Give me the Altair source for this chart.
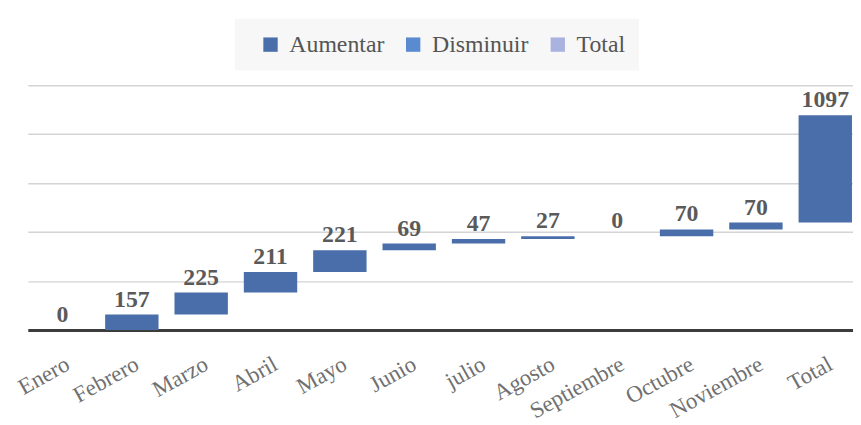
import altair as alt
import pandas as pd

months = ["Enero", "Febrero", "Marzo", "Abril", "Mayo", "Junio", "julio",
          "Agosto", "Septiembre", "Octubre", "Noviembre", "Total"]
changes = [0, 157, 225, 211, 221, 69, 47, 27, 0, 70, 70]
kinds = ["Aumentar"] * 12
legend_names = ["Aumentar", "Disminuir", "Total"]
legend_colors = ["#4a6ea9", "#5a8ad0", "#aab3e0"]

total = sum(changes)
values = changes + [total]
starts, ends = [], []
run = 0
for v in changes:
    starts.append(run)
    run += v
    ends.append(run)
starts.append(run)
ends.append(run + total)

df = pd.DataFrame({"mes": months, "valor": values, "inicio": starts,
                   "fin": ends, "tipo": kinds})

serif = "Liberation Serif"

x_axis = alt.Axis(labelAngle=-29, labelAlign="right", labelBaseline="top",
                  labelPadding=23, ticks=False, domainColor="#3c3c3c",
                  domainWidth=3, labelFont=serif, labelFontSize=23,
                  labelColor="#707070", grid=False)
y_axis = alt.Axis(values=[0, 500, 1000, 1500, 2000, 2500], labels=False,
                  ticks=False, domain=False, gridColor="#d4d4d4", gridWidth=1.5)
x_scale = alt.Scale(paddingInner=0.23, paddingOuter=0.065, align=0.885)
y_scale = alt.Scale(domain=[0, 2500], nice=False)

bars = alt.Chart(df).mark_bar().encode(
    x=alt.X("mes:N", sort=months, title=None, scale=x_scale, axis=x_axis),
    y=alt.Y("inicio:Q", title=None, scale=y_scale, axis=y_axis),
    y2="fin:Q",
    color=alt.Color("tipo:N",
                    scale=alt.Scale(domain=legend_names, range=legend_colors),
                    legend=alt.Legend(orient="none", legendX=209, legendY=-67,
                                      direction="horizontal", title=None,
                                      fillColor="#f7f7f7", padding=14,
                                      symbolOffset=10,
                                      symbolType="square", symbolSize=210,
                                      labelFont=serif, labelFontSize=24,
                                      labelColor="#555555", columnPadding=7,
                                      labelOffset=7, symbolStrokeWidth=0)),
)

labels = alt.Chart(df).mark_text(font=serif, fontWeight="bold", fontSize=24,
                                 color="#5a5a5a", baseline="bottom", dy=-3).encode(
    x=alt.X("mes:N", sort=months, title=None, scale=x_scale, axis=x_axis),
    y=alt.Y("fin:Q", title=None, scale=y_scale, axis=y_axis),
    text="valor:Q",
)

chart = alt.layer(bars, labels).properties(
    width=833, height=247,
    background="white",
    autosize=alt.AutoSizeParams(type="none"),
    padding={"left": 20, "top": 76, "right": 0, "bottom": 94},
).configure_view(strokeWidth=0, stroke="transparent").configure_axisY(
    domain=False)

chart.save("out.html", embed_options={"renderer": "svg", "actions": False})
